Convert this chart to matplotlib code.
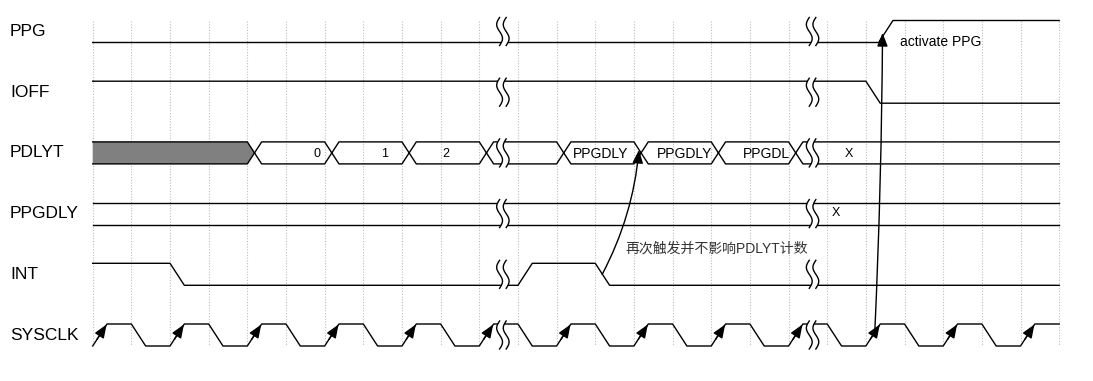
import numpy as np
import matplotlib.pyplot as plt
from matplotlib.patches import Polygon, FancyArrowPatch, ArrowStyle

plt.rcParams['font.family'] = ['Liberation Sans', 'DejaVu Sans']

# 信号名稱 (由上而下)
signals = ["PPG", "IOFF", "PDLYT", "PPGDLY", "INT", "SYSCLK"]

# 時間軸: 以半個時脈週期為單位
t_end = 25
grid_times = list(range(0, 26))
break_times = [10.61, 18.62]

# 單一位元信號: 初始電位 + (時間, 新電位)
ppg_start = 0
ppg_events = [(20.33, 1)]
ioff_start = 1
ioff_events = [(20.0, 0)]
int_start = 1
int_events = [(2.0, 0), (11.0, 1), (13.0, 0)]
clk_start = 0
clk_rise = [0, 2, 4, 6, 8, 10, 12, 14, 16, 18, 20, 22, 24]
clk_fall = [1, 3, 5, 7, 9, 11, 13, 15, 17, 19, 21, 23]

# 匯流排 PDLYT / PPGDLY
pdlyt_changes = [4, 6, 8, 10, 12, 14, 16, 18]
pdlyt_labels = ["", "0", "1", "2", "", "PPGDLY", "PPGDLY", "PPGDL", "X"]
pdlyt_label_t = [0, 5.71, 7.45, 9.05, 0, 12.43, 14.59, 16.82, 19.46]
pdlyt_label_size = [9, 9, 9, 9, 9, 10, 10, 10, 9]
ppgdly_changes = []
ppgdly_labels = ["X"]
ppgdly_label_t = [19.11]

# 版面
X0, U = 92.7, 38.66
ROW_Y0, ROW_STEP, AMP = 31.5, 60.7, 11
W = 0.37
row_y = [ROW_Y0 + ROW_STEP * i for i in range(len(signals))]
LW = 1.0


def level_y(yc, lvl):
    return yc - AMP if lvl else yc + AMP


def wave(ax, yc, start, events):
    xs, ys = [0], [level_y(yc, start)]
    lvl = start
    for t, new in sorted(events):
        xs += [t, t + W]
        ys += [level_y(yc, lvl), level_y(yc, new)]
        lvl = new
    xs.append(t_end)
    ys.append(level_y(yc, lvl))
    ax.plot(xs, ys, color="black", lw=LW, zorder=2)


def bus(ax, yc, changes, fill_first=False):
    top, bot = yc - AMP, yc + AMP
    bounds = [0] + changes + [t_end]
    for i in range(len(bounds) - 1):
        a, b = bounds[i], bounds[i + 1]
        first, last = i == 0, i == len(bounds) - 2
        for edge in (top, bot):
            xs = [a] if first else [a + W / 2, a + W]
            ys = [edge] if first else [yc, edge]
            xs += [b] if last else [b, b + W / 2]
            ys += [edge] if last else [edge, yc]
            ax.plot(xs, ys, color="black", lw=LW, zorder=2)
        if first and fill_first:
            pts = [(a, top), (b, top), (b + W / 2, yc), (b, bot), (a, bot)]
            ax.add_patch(Polygon(pts, closed=True, facecolor="#808080",
                                 edgecolor="none", zorder=1))


fig = plt.figure(figsize=(10.93, 3.81), dpi=100)
ax = fig.add_axes([0, 0, 1, 1])
ax.set_xlim(-X0 / U, (1093 - X0) / U)
ax.set_ylim(381, 0)
ax.axis("off")

# 格線
ax.vlines(grid_times, row_y[0] - AMP, row_y[-1] + AMP, colors="#bdbdbd",
          linestyles=(0, (1, 1.5)), lw=0.8, zorder=0)

# 信號名稱
for name, yc in zip(signals, row_y):
    ax.text(-X0 / U + 10 / U, yc, name, fontsize=12.5, va="center", ha="left")

wave(ax, row_y[0], ppg_start, ppg_events)
wave(ax, row_y[1], ioff_start, ioff_events)
bus(ax, row_y[2], pdlyt_changes, fill_first=True)
bus(ax, row_y[3], ppgdly_changes)
wave(ax, row_y[4], int_start, int_events)
clk_events = [(t, 1) for t in clk_rise] + [(t, 0) for t in clk_fall]
wave(ax, row_y[5], clk_start, clk_events)

# 匯流排文字
for lab, t, fs in zip(pdlyt_labels, pdlyt_label_t, pdlyt_label_size):
    if lab:
        ax.text(t, row_y[2] + 1, lab, fontsize=fs, va="center", ha="left", zorder=5)
for lab, t in zip(ppgdly_labels, ppgdly_label_t):
    ax.text(t, row_y[3] - 1, lab, fontsize=9, va="center", ha="left", zorder=5)

# 時脈上升緣箭頭
head = ArrowStyle("-|>", head_length=0.5, head_width=0.2)
for t in clk_rise:
    ax.add_patch(FancyArrowPatch((t + W * 0.3, level_y(row_y[5], 0) - 0.3 * 2 * AMP),
                                 (t + W * 0.97, level_y(row_y[5], 1) + 0.5),
                                 arrowstyle=head, mutation_scale=16,
                                 color="black", lw=LW, shrinkA=0, shrinkB=0,
                                 zorder=4))

# 中斷符號
s = np.linspace(0, 1, 40)
for tb in break_times:
    for yc in row_y:
        ys = yc - 14 + 28 * s
        left = tb - 0.085 - 0.075 * np.sin(2 * np.pi * s)
        right = tb + 0.085 - 0.075 * np.sin(2 * np.pi * s)
        mask = np.column_stack([np.r_[left, right[::-1]], np.r_[ys, ys[::-1]]])
        ax.add_patch(Polygon(mask, closed=True, facecolor="white",
                             edgecolor="none", zorder=3))
        ax.plot(left, ys, color="black", lw=LW, zorder=4)
        ax.plot(right, ys, color="black", lw=LW, zorder=4)

# 註解箭頭
ax.add_patch(FancyArrowPatch((13.18, row_y[4]), (14.13, row_y[2] - 3),
                             connectionstyle="arc3,rad=0.1", arrowstyle=head,
                             mutation_scale=16, color="black", lw=LW,
                             shrinkA=0, shrinkB=0, zorder=6))
ax.add_patch(FancyArrowPatch((20.23, row_y[5] - 3), (20.43, row_y[0] + 1.5),
                             connectionstyle="arc3,rad=0.01", arrowstyle=head,
                             mutation_scale=16, color="black", lw=LW,
                             shrinkA=0, shrinkB=0, zorder=6))

ax.text(20.88, 41.7, "activate PPG", fontsize=10, va="center", ha="left")
ax.text(13.77, 249, "再次触发并不影响PDLYT计数", fontsize=10, va="center",
        ha="left", color="#333333", family=["Liberation Sans", "Noto Sans CJK SC"])

fig.savefig("out.png", dpi=100)
